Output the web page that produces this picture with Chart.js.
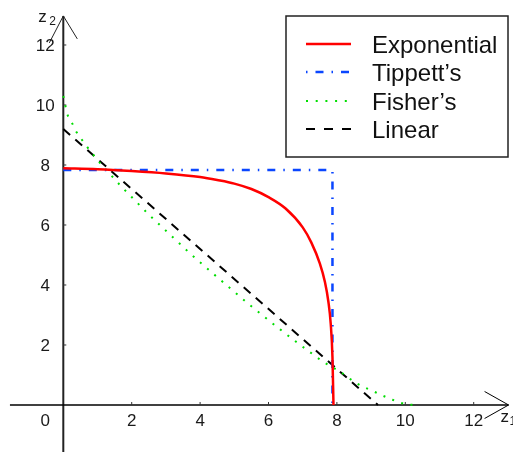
<!DOCTYPE html>
<html>
<head>
<meta charset="utf-8">
<script src="https://cdn.jsdelivr.net/npm/chart.js@4/dist/chart.umd.min.js"></script>
<style>
  html, body { margin: 0; padding: 0; background: #fff; }
  #wrap { width: 513px; height: 452px; position: relative; }
</style>
</head>
<body>
<div id="wrap"><canvas id="combChart"></canvas></div>
<script>
// curves (z1, z2)
const expX = [0, 1, 2, 3, 4, 4.5, 5, 5.5, 6, 6.5, 7, 7.25, 7.5, 7.65, 7.75, 7.82, 7.87, 7.9];
const expY = [7.89, 7.86, 7.8, 7.72, 7.6, 7.5, 7.38, 7.2, 6.93, 6.55, 5.92, 5.42, 4.72, 4.1, 3.45, 2.7, 1.6, 0];

const tipX = [0, 7.87, 7.87];
const tipY = [7.83, 7.83, 0];

const fisX = [0, 0.12, 0.25, 0.37, 0.52, 0.68, 1.02, 1.37, 1.75, 2.13, 2.49, 2.88, 3.27, 3.68, 4.29, 4.88, 5.49, 6.34, 6.77, 7.19, 7.6, 8.09, 8.58, 9.04, 9.53, 10.04, 10.33];
const fisY = [10.3, 9.69, 9.41, 9.13, 8.88, 8.63, 8.14, 7.69, 7.22, 6.78, 6.36, 5.94, 5.52, 5.08, 4.47, 3.89, 3.3, 2.52, 2.14, 1.78, 1.44, 1.11, 0.72, 0.47, 0.22, 0.02, 0];

const linX = [0, 9.2];
const linY = [9.2, 0];

const seriesNames = ['Exponential', 'Tippett\u2019s', 'Fisher\u2019s', 'Linear'];
const xTicks = [2, 4, 6, 8, 10, 12];
const yTicks = [2, 4, 6, 8, 10, 12];

function pts(xs, ys) {
    return xs.map(function (x, i) { return { x: x, y: ys[i] }; });
}

const FONT = '"Liberation Sans", Arial, sans-serif';

// axes, arrows, tick labels and legend box
const axesPlugin = {
    id: 'axesPlugin',
    beforeDatasetsDraw: function (chart) {
        const ctx = chart.ctx;
        const xs = chart.scales.x, ys = chart.scales.y;
        const x0 = xs.getPixelForValue(0), y0 = ys.getPixelForValue(0);
        const xTip = xs.getPixelForValue(13.02), yTip = ys.getPixelForValue(12.97);
        ctx.save();
        ctx.lineCap = 'butt';

        // y axis
        ctx.strokeStyle = '#222';
        ctx.lineWidth = 2;
        ctx.beginPath();
        ctx.moveTo(x0, chart.height);
        ctx.lineTo(x0, yTip);
        ctx.stroke();
        ctx.lineWidth = 1;
        ctx.beginPath();
        ctx.moveTo(x0 - 14, yTip + 27);
        ctx.lineTo(x0, yTip);
        ctx.lineTo(x0 + 14, yTip + 23);
        ctx.stroke();

        // x axis
        ctx.strokeStyle = '#000';
        ctx.lineWidth = 1.5;
        ctx.beginPath();
        ctx.moveTo(xs.getPixelForValue(-1.56), y0);
        ctx.lineTo(xTip, y0);
        ctx.stroke();
        ctx.lineWidth = 1;
        ctx.beginPath();
        ctx.moveTo(xTip - 24, y0 - 13.5);
        ctx.lineTo(xTip, y0);
        ctx.lineTo(xTip - 24, y0 + 13.5);
        ctx.stroke();

        // tick marks
        ctx.lineWidth = 1;
        ctx.strokeStyle = '#333';
        xTicks.forEach(function (t) {
            const p = xs.getPixelForValue(t);
            ctx.beginPath();
            ctx.moveTo(p, y0);
            ctx.lineTo(p, y0 - 3);
            ctx.stroke();
        });
        yTicks.forEach(function (t) {
            const p = ys.getPixelForValue(t);
            ctx.beginPath();
            ctx.moveTo(x0, p);
            ctx.lineTo(x0 + 3, p);
            ctx.stroke();
        });

        // tick labels
        ctx.fillStyle = '#1a1a1a';
        ctx.font = '17px ' + FONT;
        ctx.textAlign = 'center';
        ctx.textBaseline = 'middle';
        xTicks.forEach(function (t) {
            ctx.fillText(String(t), xs.getPixelForValue(t), y0 + 16);
        });
        yTicks.forEach(function (t) {
            ctx.fillText(String(t), x0 - 18, ys.getPixelForValue(t) + 1);
        });
        ctx.fillText('0', x0 - 18, y0 + 16);

        // axis names
        ctx.textAlign = 'left';
        ctx.textBaseline = 'alphabetic';
        ctx.font = '17px ' + FONT;
        ctx.fillText('z', x0 - 25, yTip + 6);
        ctx.fillText('z', xTip - 8, y0 + 17);
        ctx.font = '12px ' + FONT;
        ctx.fillText('2', x0 - 14, yTip + 9);
        ctx.fillText('1', xTip + 1, y0 + 20);
        ctx.restore();
    },
    afterDraw: function (chart) {
        const ctx = chart.ctx;
        ctx.save();
        ctx.strokeStyle = '#222';
        ctx.lineWidth = 1.5;
        ctx.strokeRect(286, 16, 222, 141);
        const rows = [44, 72, 101, 129];
        chart.data.datasets.forEach(function (ds, i) {
            const y = rows[i];
            ctx.strokeStyle = ds.borderColor;
            ctx.lineWidth = ds.borderWidth;
            ctx.setLineDash(ds.legendDash || []);
            ctx.lineDashOffset = ds.legendDashOffset || 0;
            ctx.beginPath();
            ctx.moveTo(306, y);
            ctx.lineTo(351, y);
            ctx.stroke();
            ctx.setLineDash([]);
            ctx.fillStyle = '#111';
            ctx.font = '24px ' + FONT;
            ctx.textAlign = 'left';
            ctx.textBaseline = 'alphabetic';
            ctx.fillText(ds.label, 372, y + 9);
        });
        ctx.restore();
    }
};

document.addEventListener('DOMContentLoaded', function () {
    const ctx = document.getElementById('combChart').getContext('2d');
    new Chart(ctx, {
        type: 'scatter',
        data: {
            datasets: [
                {
                    label: seriesNames[0],
                    data: pts(expX, expY),
                    showLine: true,
                    borderColor: '#ff0000',
                    borderWidth: 2.5,
                    pointRadius: 0,
                    cubicInterpolationMode: 'monotone',
                    legendDash: []
                },
                {
                    label: seriesNames[1],
                    data: pts(tipX, tipY),
                    showLine: true,
                    borderColor: '#0a46ff',
                    borderWidth: 2.5,
                    borderDash: [8, 8, 1.5, 8],
                    pointRadius: 0,
                    legendDash: [8, 8, 1.5, 8],
                    legendDashOffset: 16
                },
                {
                    label: seriesNames[2],
                    data: pts(fisX, fisY),
                    showLine: true,
                    borderColor: '#00dd00',
                    borderWidth: 2,
                    borderDash: [2, 7.5],
                    pointRadius: 0,
                    cubicInterpolationMode: 'monotone',
                    legendDash: [2, 7.7]
                },
                {
                    label: seriesNames[3],
                    data: pts(linX, linY),
                    showLine: true,
                    borderColor: '#000000',
                    borderWidth: 2,
                    borderDash: [9, 7],
                    pointRadius: 0,
                    legendDash: [9, 9]
                }
            ]
        },
        options: {
            responsive: true,
            maintainAspectRatio: false,
            animation: false,
            layout: { padding: 0 },
            scales: {
                x: { type: 'linear', min: -1.851, max: 13.149, display: false },
                y: { type: 'linear', min: -1.567, max: 13.5, display: false }
            },
            plugins: {
                legend: { display: false },
                tooltip: { enabled: false }
            }
        },
        plugins: [axesPlugin]
    });
});
</script>
</body>
</html>
